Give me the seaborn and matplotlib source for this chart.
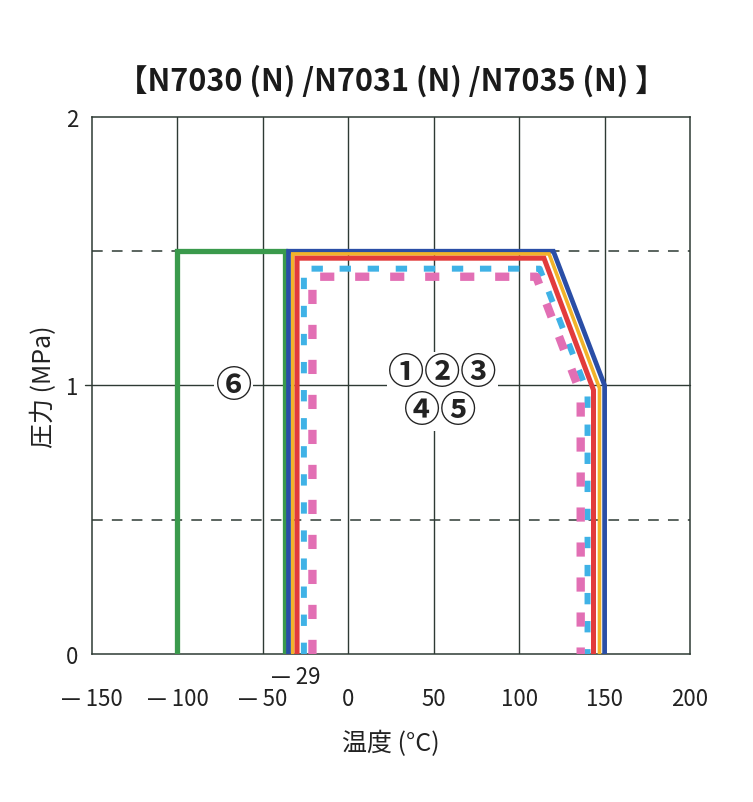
import numpy as np
import pandas as pd
import matplotlib
matplotlib.use('Agg')
import matplotlib.pyplot as plt
import seaborn as sns

# temperature (x) / pressure (y) envelopes, as drawn (offset so they don't overlap)
green_x = [-100, -100, -37, -37]
green_y = [0, 1.5, 1.5, 0]
blue_x = [-35, -35, 120, 150, 150]
blue_y = [0, 1.5, 1.5, 1.0, 0]
orange_x = [-32.5, -32.5, 117.5, 147, 147]
orange_y = [0, 1.49, 1.49, 0.99, 0]
red_x = [-30, -30, 114.5, 143.5, 143.5]
red_y = [0, 1.474, 1.474, 0.983, 0]
lblue_x = [-26, -26, 112, 140, 140]
lblue_y = [0, 1.435, 1.435, 0.975, 0]
pink_x = [-21, -21, 110, 136, 136]
pink_y = [0, 1.405, 1.405, 0.97, 0]

xticks = [-150, -100, -50, 0, 50, 100, 150, 200]
xtick_labels = ['— 150', '— 100', '— 50', '0', '50', '100', '150', '200']
yticks = [0, 1, 2]
ytick_labels = ['0', '1', '2']

sns.set_theme(style='white')
plt.rcParams['font.family'] = ['Noto Sans CJK JP', 'DejaVu Sans']

gridc = '#2e3a34'
txtc = '#222222'

fig = plt.figure(figsize=(7.53, 8.03), dpi=100)
ax = fig.add_axes([0.1222, 0.1843, 0.7942, 0.6688])
ax.set_xlim(-150, 200)
ax.set_ylim(0, 2)

# grid
for gx in [-100, -50, 0, 50, 100, 150]:
    ax.axvline(gx, color=gridc, lw=1.0, zorder=1)
ax.axhline(1, xmin=-0.012, xmax=1, color=gridc, lw=1.0, zorder=1, clip_on=False)
for gy in [0.5, 1.5]:
    ax.axhline(gy, color=gridc, lw=1.1, ls=(0, (7, 6)), zorder=1)
for s in ax.spines.values():
    s.set_color(gridc)
    s.set_linewidth(1.1)

series = [
    (green_x, green_y, '#3a9a4c', 3.8, '-'),
    (blue_x, blue_y, '#2a4ea6', 3.4, '-'),
    (orange_x, orange_y, '#f2b32a', 2.6, '-'),
    (red_x, red_y, '#e23b3c', 3.6, '-'),
    (lblue_x, lblue_y, '#3fb2e6', 4.3, (0, (1.9, 2.8))),
    (pink_x, pink_y, '#e26fb4', 6.0, (0, (1.7, 2.5))),
]
for xs, ys, c, lw, ls in series:
    df = pd.DataFrame({'x': xs, 'y': ys})
    sns.lineplot(data=df, x='x', y='y', sort=False, estimator=None, color=c,
                 lw=lw, linestyle=ls, ax=ax, zorder=3)
for line in ax.get_lines():
    line.set_solid_joinstyle('miter')
    line.set_dash_capstyle('butt')

ax.set_xticks(xticks)
ax.set_xticklabels(xtick_labels, fontsize=16)
ax.set_yticks(yticks)
ax.set_yticklabels(ytick_labels, fontsize=16)
ax.tick_params(axis='x', length=0, pad=24, colors=txtc)
ax.tick_params(axis='y', length=0, pad=10, colors=txtc)

ax.text(-31, -0.082, '— 29', ha='center', va='center', fontsize=16, color=txtc, clip_on=False)

bbox = dict(facecolor='white', edgecolor='none', pad=1)
ax.text(-67, 1.0, '⑥', ha='center', va='center', fontsize=26, fontweight='bold', color=txtc, bbox=bbox, zorder=4)
ax.text(55, 1.05, '①②③', ha='center', va='center', fontsize=26, fontweight='bold', color=txtc, bbox=bbox, zorder=4)
ax.text(54, 0.905, '④⑤', ha='center', va='center', fontsize=26, fontweight='bold', color=txtc, bbox=bbox, zorder=4)

ax.set_xlabel('温度 (°C)', fontsize=18, labelpad=14, color=txtc)
ax.set_ylabel('圧力 (MPa)', fontsize=18, labelpad=6, color=txtc)
ax.set_title('【N7030 (N) /N7031 (N) /N7035 (N) 】', fontsize=22, fontweight='bold',
             pad=20, color='#1a1a1a')

fig.savefig('out.png', dpi=100, facecolor='white')
